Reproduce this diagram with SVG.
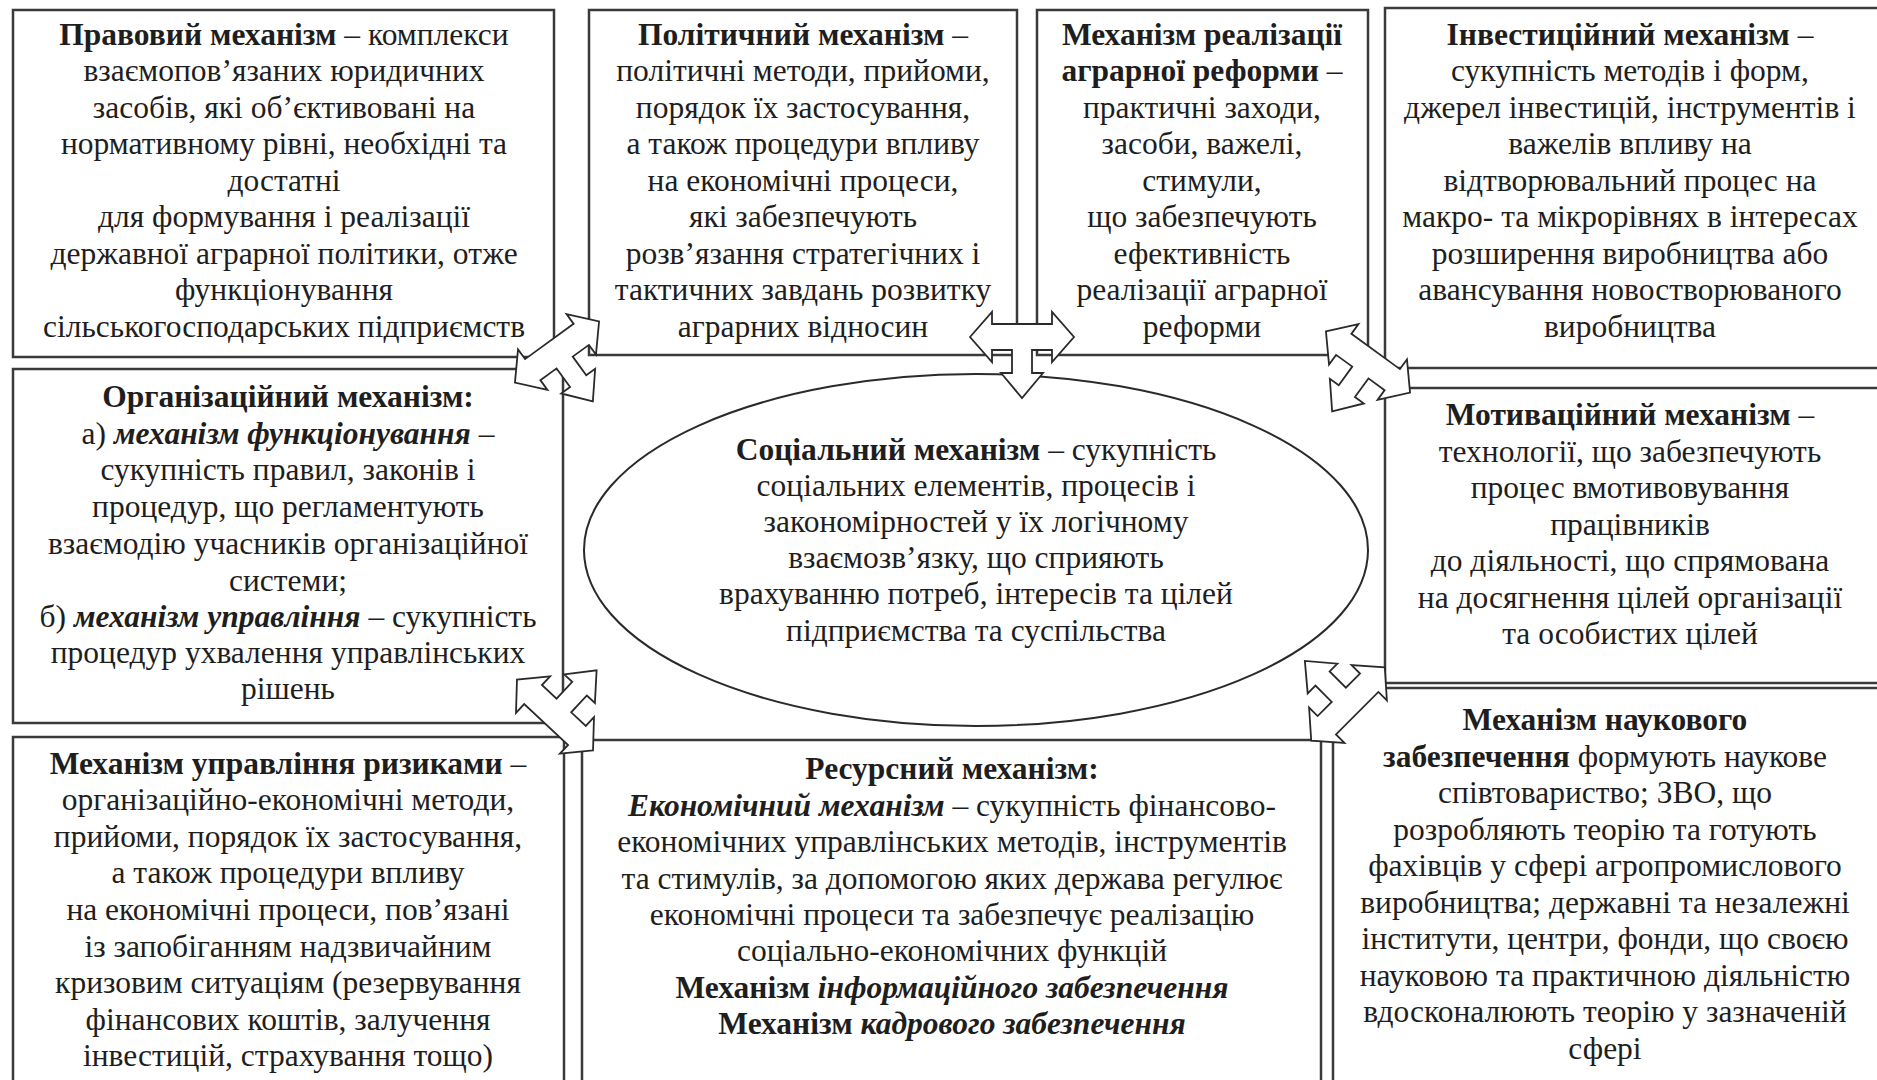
<svg xmlns="http://www.w3.org/2000/svg" xmlns:xlink="http://www.w3.org/1999/xlink" width="1877" height="1080" viewBox="0 0 1877 1080">
<style>
.box{fill:#fff;stroke:#3a3a3a;stroke-width:2.5}
.ell{fill:#fff;stroke:#2a2a2a;stroke-width:2}
.t{font-family:"Liberation Serif","Times New Roman",serif;font-size:31.5px;fill:#1e1e1e;text-anchor:middle}
.b{font-weight:bold}
.i{font-style:italic}
.arr{fill:#fff;stroke:#2a2a2a;stroke-width:1.8;stroke-linejoin:miter}
</style>
<defs>
<path id="tri" d="M-52,0 L-30,-25 L-30,-13 L30,-13 L30,-25 L52,0 L30,25 L30,13 L10,13 L10,36 L21,36 L0,61 L-21,36 L-10,36 L-10,13 L-30,13 L-30,25 Z"/>
</defs>
<rect width="1877" height="1080" fill="#fff"/>
<g id="nodes">
<g id="pravovyi">
<rect class="box" x="13" y="10" width="541" height="347"/>
<text class="t" x="284" y="45"><tspan class="b">Правовий механізм</tspan> – комплекси</text>
<text class="t" x="284" y="81">взаємопов’язаних юридичних</text>
<text class="t" x="284" y="118">засобів, які об’єктивовані на</text>
<text class="t" x="284" y="154">нормативному рівні, необхідні та</text>
<text class="t" x="284" y="191">достатні</text>
<text class="t" x="284" y="227">для формування і реалізації</text>
<text class="t" x="284" y="264">державної аграрної політики, отже</text>
<text class="t" x="284" y="300">функціонування</text>
<text class="t" x="284" y="337">сільськогосподарських підприємств</text>
</g>
<g id="politychnyi">
<rect class="box" x="589" y="10" width="428" height="345"/>
<text class="t" x="803" y="45"><tspan class="b">Політичний механізм</tspan> –</text>
<text class="t" x="803" y="81">політичні методи, прийоми,</text>
<text class="t" x="803" y="118">порядок їх застосування,</text>
<text class="t" x="803" y="154">а також процедури впливу</text>
<text class="t" x="803" y="191">на економічні процеси,</text>
<text class="t" x="803" y="227">які забезпечують</text>
<text class="t" x="803" y="264">розв’язання стратегічних і</text>
<text class="t" x="803" y="300">тактичних завдань розвитку</text>
<text class="t" x="803" y="337">аграрних відносин</text>
</g>
<g id="reforma">
<rect class="box" x="1037" y="10" width="331" height="345"/>
<text class="t" x="1202" y="45"><tspan class="b">Механізм реалізації</tspan></text>
<text class="t" x="1202" y="81"><tspan class="b">аграрної реформи</tspan> –</text>
<text class="t" x="1202" y="118">практичні заходи,</text>
<text class="t" x="1202" y="154">засоби, важелі,</text>
<text class="t" x="1202" y="191">стимули,</text>
<text class="t" x="1202" y="227">що забезпечують</text>
<text class="t" x="1202" y="264">ефективність</text>
<text class="t" x="1202" y="300">реалізації аграрної</text>
<text class="t" x="1202" y="337">реформи</text>
</g>
<g id="investytsiinyi">
<rect class="box" x="1385" y="8" width="520" height="360"/>
<text class="t" x="1630" y="45"><tspan class="b">Інвестиційний механізм</tspan> –</text>
<text class="t" x="1630" y="81">сукупність методів і форм,</text>
<text class="t" x="1630" y="118">джерел інвестицій, інструментів і</text>
<text class="t" x="1630" y="154">важелів впливу на</text>
<text class="t" x="1630" y="191">відтворювальний процес на</text>
<text class="t" x="1630" y="227">макро- та мікрорівнях в інтересах</text>
<text class="t" x="1630" y="264">розширення виробництва або</text>
<text class="t" x="1630" y="300">авансування новостворюваного</text>
<text class="t" x="1630" y="337">виробництва</text>
</g>
<g id="orhanizatsiinyi">
<rect class="box" x="13" y="369" width="550" height="354"/>
<text class="t" x="288" y="407"><tspan class="b">Організаційний механізм:</tspan></text>
<text class="t" x="288" y="444">а) <tspan class="b i">механізм функціонування</tspan> –</text>
<text class="t" x="288" y="480">сукупність правил, законів і</text>
<text class="t" x="288" y="517">процедур, що регламентують</text>
<text class="t" x="288" y="554">взаємодію учасників організаційної</text>
<text class="t" x="288" y="591">системи;</text>
<text class="t" x="288" y="627">б) <tspan class="b i">механізм управління</tspan> – сукупність</text>
<text class="t" x="288" y="663">процедур ухвалення управлінських</text>
<text class="t" x="288" y="699">рішень</text>
</g>
<g id="motyvatsiinyi">
<rect class="box" x="1385" y="388" width="520" height="295"/>
<text class="t" x="1630" y="425"><tspan class="b">Мотиваційний механізм</tspan> –</text>
<text class="t" x="1630" y="462">технології, що забезпечують</text>
<text class="t" x="1630" y="498">процес вмотивовування</text>
<text class="t" x="1630" y="535">працівників</text>
<text class="t" x="1630" y="571">до діяльності, що спрямована</text>
<text class="t" x="1630" y="608">на досягнення цілей організації</text>
<text class="t" x="1630" y="644">та особистих цілей</text>
</g>
<g id="ryzyky">
<rect class="box" x="13" y="737" width="551" height="370"/>
<text class="t" x="288" y="774"><tspan class="b">Механізм управління ризиками</tspan> –</text>
<text class="t" x="288" y="810">організаційно-економічні методи,</text>
<text class="t" x="288" y="847">прийоми, порядок їх застосування,</text>
<text class="t" x="288" y="883">а також процедури впливу</text>
<text class="t" x="288" y="920">на економічні процеси, пов’язані</text>
<text class="t" x="288" y="957">із запобіганням надзвичайним</text>
<text class="t" x="288" y="993">кризовим ситуаціям (резервування</text>
<text class="t" x="288" y="1030">фінансових коштів, залучення</text>
<text class="t" x="288" y="1066">інвестицій, страхування тощо)</text>
</g>
<g id="resursnyi">
<rect class="box" x="582" y="740" width="739" height="370"/>
<text class="t" x="952" y="779"><tspan class="b">Ресурсний механізм:</tspan></text>
<text class="t" x="952" y="816"><tspan class="b i">Економічний механізм</tspan> – сукупність фінансово-</text>
<text class="t" x="952" y="852">економічних управлінських методів, інструментів</text>
<text class="t" x="952" y="889">та стимулів, за допомогою яких держава регулює</text>
<text class="t" x="952" y="925">економічні процеси та забезпечує реалізацію</text>
<text class="t" x="952" y="961">соціально-економічних функцій</text>
<text class="t b" x="952" y="998">Механізм <tspan class="i">інформаційного забезпечення</tspan></text>
<text class="t b" x="952" y="1034">Механізм <tspan class="i">кадрового забезпечення</tspan></text>
</g>
<g id="naukovyi">
<rect class="box" x="1333" y="688" width="572" height="420"/>
<text class="t" x="1605" y="730"><tspan class="b">Механізм наукового</tspan></text>
<text class="t" x="1605" y="767"><tspan class="b">забезпечення</tspan> формують наукове</text>
<text class="t" x="1605" y="803">співтовариство; ЗВО, що</text>
<text class="t" x="1605" y="840">розробляють теорію та готують</text>
<text class="t" x="1605" y="876">фахівців у сфері агропромислового</text>
<text class="t" x="1605" y="913">виробництва; державні та незалежні</text>
<text class="t" x="1605" y="949">інститути, центри, фонди, що своєю</text>
<text class="t" x="1605" y="986">науковою та практичною діяльністю</text>
<text class="t" x="1605" y="1022">вдосконалюють теорію у зазначеній</text>
<text class="t" x="1605" y="1059">сфері</text>
</g>
<g id="sotsialnyi">
<ellipse class="ell" cx="976" cy="550" rx="392" ry="176"/>
<text class="t" x="976" y="460"><tspan class="b">Соціальний механізм</tspan> – сукупність</text>
<text class="t" x="976" y="496">соціальних елементів, процесів і</text>
<text class="t" x="976" y="532">закономірностей у їх логічному</text>
<text class="t" x="976" y="568">взаємозв’язку, що сприяють</text>
<text class="t" x="976" y="604">врахуванню потреб, інтересів та цілей</text>
<text class="t" x="976" y="641">підприємства та суспільства</text>
</g>
</g>
<g id="connectors">
<use xlink:href="#tri" class="arr" transform="translate(557,352) rotate(-36)"/>
<use xlink:href="#tri" class="arr" transform="translate(1022,337)"/>
<use xlink:href="#tri" class="arr" transform="translate(1368,362) rotate(36)"/>
<use xlink:href="#tri" class="arr" transform="translate(555,715) rotate(-137)"/>
<use xlink:href="#tri" class="arr" transform="translate(1348,704) rotate(135)"/>
</g>
</svg>
